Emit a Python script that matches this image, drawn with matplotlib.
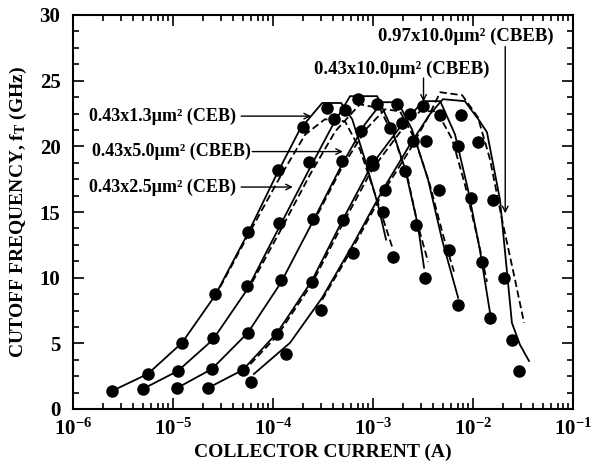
import matplotlib
matplotlib.use("Agg")
import matplotlib.pyplot as plt
from matplotlib.ticker import LogLocator, MultipleLocator, NullFormatter

plt.rcParams['font.family'] = ['Liberation Serif', 'DejaVu Serif']
plt.rcParams['font.weight'] = 'bold'
plt.rcParams['mathtext.fontset'] = 'custom'
plt.rcParams['mathtext.rm'] = 'Liberation Serif:bold'
plt.rcParams['mathtext.default'] = 'rm'

# measured points (dots), collector current in A, fT in GHz
dev_labels = ['0.43x1.3µm² (CEB)', '0.43x2.5µm² (CEB)', '0.43x5.0µm² (CBEB)',
              '0.43x10.0µm² (CBEB)', '0.97x10.0µm² (CBEB)']

meas1_i = [2.45e-6, 5.6e-6, 1.23e-5, 2.63e-5, 5.6e-5, 1.12e-4, 2.0e-4, 3.5e-4, 5.25e-4, 1.0e-3, 1.26e-3, 1.58e-3]
meas1_f = [1.37, 2.64, 5.0, 8.75, 13.46, 18.2, 21.45, 22.9, 22.8, 18.6, 15.0, 11.55]
meas2_i = [5.0e-6, 1.12e-5, 2.5e-5, 5.5e-5, 1.15e-4, 2.3e-4, 4.1e-4, 7.1e-4, 1.1e-3, 1.48e-3, 2.1e-3, 2.7e-3, 3.3e-3]
meas2_f = [1.5, 2.87, 5.4, 9.4, 14.2, 18.8, 22.1, 23.6, 23.2, 21.4, 18.1, 14.0, 10.0]
meas3_i = [1.1e-5, 2.45e-5, 5.6e-5, 1.2e-4, 2.5e-4, 4.9e-4, 7.6e-4, 1.74e-3, 2.35e-3, 3.4e-3, 4.6e-3, 5.75e-3, 7.1e-3]
meas3_f = [1.62, 3.05, 5.77, 9.8, 14.5, 18.9, 21.2, 23.2, 22.5, 20.4, 16.7, 12.1, 7.9]
meas4_i = [2.24e-5, 5.0e-5, 1.1e-4, 2.45e-4, 5.0e-4, 9.8e-4, 1.95e-3, 3.16e-3, 4.7e-3, 7.1e-3, 9.5e-3, 1.23e-2, 1.48e-2]
meas4_f = [1.58, 2.98, 5.7, 9.7, 14.4, 18.85, 21.8, 23.05, 22.4, 20.0, 16.1, 11.2, 6.95]
meas5_i = [6.0e-5, 1.35e-4, 3.0e-4, 6.3e-4, 1.32e-3, 2.5e-3, 7.6e-3, 1.12e-2, 1.58e-2, 2.04e-2, 2.45e-2, 2.9e-2]
meas5_f = [2.06, 4.15, 7.56, 11.9, 16.7, 20.4, 22.4, 20.3, 15.95, 10.0, 5.27, 2.92]

# simulation, solid lines
sol1_i = [2.45e-6, 5.6e-6, 1.23e-5, 2.63e-5, 5.6e-5, 1.05e-4, 1.86e-4, 3.1e-4, 4.8e-4, 6.2e-4, 8.3e-4, 1.12e-3, 1.35e-3]
sol1_f = [1.37, 2.67, 5.04, 8.63, 13.36, 17.63, 21.3, 23.3, 23.3, 22.06, 19.0, 15.57, 12.9]
sol2_i = [5.0e-6, 1.12e-5, 2.5e-5, 5.5e-5, 1.15e-4, 2.3e-4, 4.0e-4, 5.9e-4, 1.1e-3, 1.55e-3, 2.1e-3, 2.8e-3, 3.24e-3]
sol2_f = [1.53, 2.9, 5.27, 9.08, 13.82, 18.24, 21.68, 23.82, 23.82, 21.3, 18.24, 14.05, 10.76]
sol3_i = [1.1e-5, 2.45e-5, 5.6e-5, 1.2e-4, 2.5e-4, 4.9e-4, 8.3e-4, 1.23e-3, 1.78e-3, 2.45e-3, 3.55e-3, 4.9e-3, 7.1e-3]
sol3_f = [1.6, 3.05, 5.8, 9.62, 14.27, 18.63, 21.68, 23.36, 23.36, 21.3, 17.48, 12.9, 8.47]
sol4_i = [2.24e-5, 5.0e-5, 1.1e-4, 2.45e-4, 5.0e-4, 9.8e-4, 1.86e-3, 2.8e-3, 3.3e-3, 4.7e-3, 6.6e-3, 8.9e-3, 1.17e-2, 1.48e-2]
sol4_f = [1.6, 2.98, 5.8, 9.77, 14.43, 18.63, 21.45, 22.98, 23.44, 23.44, 20.92, 16.72, 12.14, 7.33]
sol5_i = [6.45e-5, 1.48e-4, 3.1e-4, 6.3e-4, 1.26e-3, 2.35e-3, 3.7e-3, 5.0e-3, 8.3e-3, 1.17e-2, 1.38e-2, 1.86e-2, 2.45e-2, 2.95e-2, 3.63e-2]
sol5_f = [2.67, 5.04, 8.47, 12.52, 16.72, 20.15, 22.44, 23.59, 23.44, 21.9, 21.07, 15.95, 6.56, 4.89, 3.66]

# simulation, dashed lines
dsh1_i = [2.63e-5, 5.6e-5, 1.17e-4, 2.1e-4, 3.3e-4, 5.25e-4, 7.4e-4, 1.05e-3, 1.55e-3]
dsh1_f = [8.55, 13.2, 17.63, 20.9, 22.06, 21.9, 19.77, 16.34, 12.37]
dsh2_i = [5.5e-5, 1.17e-4, 2.35e-4, 4.2e-4, 7.4e-4, 1.17e-3, 1.66e-3, 2.24e-3, 2.8e-3, 3.55e-3]
dsh2_f = [8.93, 13.5, 17.86, 21.15, 23.2, 22.9, 20.53, 17.48, 14.05, 11.22]
dsh3_i = [2.5e-4, 4.9e-4, 8.5e-4, 1.32e-3, 1.86e-3, 2.63e-3, 3.7e-3, 5.0e-3, 6.45e-3]
dsh3_f = [14.12, 18.4, 21.3, 22.82, 22.67, 20.53, 17.1, 13.28, 10.46]
dsh4_i = [5.0e-5, 1.1e-4, 2.45e-4, 5.0e-4, 9.8e-4, 1.86e-3, 2.95e-3, 4.35e-3, 6.2e-3, 8.3e-3, 1.12e-2, 1.38e-2]
dsh4_f = [2.82, 5.57, 9.54, 14.12, 18.24, 21.07, 22.67, 22.67, 20.53, 17.1, 12.9, 9.69]
dsh5_i = [3.1e-4, 6.3e-4, 1.26e-3, 2.35e-3, 3.55e-3, 4.7e-3, 7.8e-3, 1.12e-2, 1.48e-2, 1.95e-2, 2.63e-2, 3.24e-2]
dsh5_f = [8.32, 12.29, 16.49, 19.77, 22.21, 24.12, 23.89, 22.21, 19.0, 14.43, 9.85, 6.56]

fig = plt.figure(figsize=(6.02, 4.72), dpi=100)
ax = fig.add_axes([73/602, 1-409/472, 500/602, 394/472])

for xi, yi in [(sol1_i, sol1_f), (sol2_i, sol2_f), (sol3_i, sol3_f), (sol4_i, sol4_f), (sol5_i, sol5_f)]:
    ax.plot(xi, yi, color='black', lw=1.3)
for xi, yi in [(dsh1_i, dsh1_f), (dsh2_i, dsh2_f), (dsh3_i, dsh3_f), (dsh4_i, dsh4_f), (dsh5_i, dsh5_f)]:
    ax.plot(xi, yi, color='black', lw=1.3, ls=(0, (4, 2)))
for xi, yi in [(meas1_i, meas1_f), (meas2_i, meas2_f), (meas3_i, meas3_f), (meas4_i, meas4_f), (meas5_i, meas5_f)]:
    ax.plot(xi, yi, 'o', color='black', ms=8, ls='none')

ax.set_xscale('log')
ax.set_xlim(1e-6, 1e-1)
ax.set_ylim(0, 30)
ax.yaxis.set_major_locator(MultipleLocator(5))
ax.yaxis.set_minor_locator(MultipleLocator(1.25))
ax.xaxis.set_major_locator(LogLocator(base=10, numticks=10))
ax.xaxis.set_minor_locator(LogLocator(base=10, subs=range(2, 10), numticks=10))
ax.xaxis.set_minor_formatter(NullFormatter())
ax.tick_params(which='both', direction='in', top=True, right=True, width=1.2)
ax.tick_params(which='major', length=8, labelsize=15)
ax.tick_params(which='minor', length=4)
ax.tick_params(axis='y', pad=9)
ax.tick_params(axis='x', pad=7)
for s in ax.spines.values():
    s.set_linewidth(1.5)

# the "0" sits a bit further left, clear of 10^-6
fig.canvas.draw()
ax.yaxis.get_major_ticks()[0].label1.set_x(-0.035)

ax.set_xlabel('COLLECTOR CURRENT (A)', fontsize=14, fontweight='bold', labelpad=3)
ax.set_ylabel('CUTOFF FREQUENCY, f$_{T}$ (GHz)', fontsize=14, fontweight='bold', labelpad=8)

# labels and arrows
arr = dict(arrowstyle='->', color='black', lw=1.0, shrinkA=0, shrinkB=0)
ax.text(4.3e-5, 22.3, dev_labels[0], fontsize=13, ha='right', va='center')
ax.annotate('', xy=(2.4e-4, 22.3), xytext=(4.8e-5, 22.3), arrowprops=arr)
ax.text(6.0e-5, 19.6, dev_labels[2], fontsize=13, ha='right', va='center')
ax.annotate('', xy=(5.0e-4, 19.6), xytext=(6.2e-5, 19.6), arrowprops=arr)
ax.text(4.3e-5, 16.9, dev_labels[1], fontsize=13, ha='right', va='center')
ax.annotate('', xy=(1.58e-4, 16.9), xytext=(4.8e-5, 16.9), arrowprops=arr)
ax.text(1.95e-3, 25.9, dev_labels[3], fontsize=13.5, ha='center', va='center')
ax.annotate('', xy=(3.2e-3, 23.4), xytext=(3.2e-3, 25.2), arrowprops=arr)
ax.text(8.5e-3, 28.4, dev_labels[4], fontsize=13.5, ha='center', va='center')
ax.annotate('', xy=(2.1e-2, 14.9), xytext=(2.1e-2, 27.6), arrowprops=arr)

fig.savefig('out.png', dpi=100)
